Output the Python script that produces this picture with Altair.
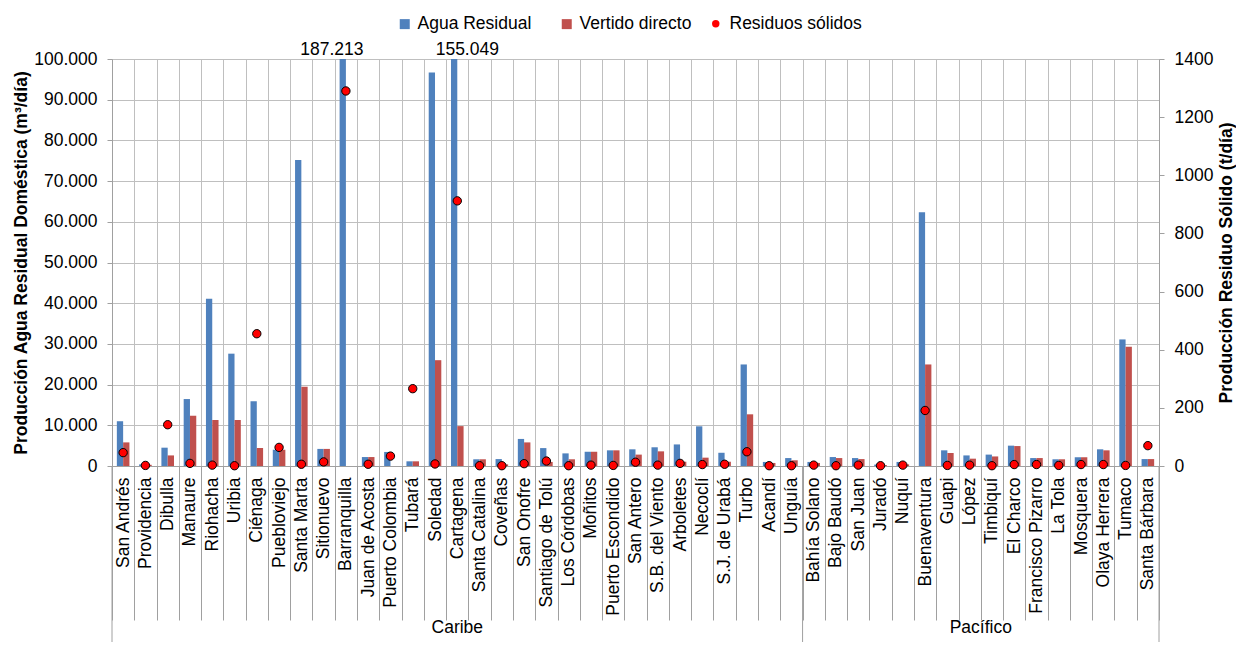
import altair as alt
import pandas as pd

cats = ["San Andrés", "Providencia", "Dibulla", "Manaure", "Riohacha", "Uribia", "Ciénaga",
        "Puebloviejo", "Santa Marta", "Sitionuevo", "Barranquilla", "Juan de Acosta",
        "Puerto Colombia", "Tubará", "Soledad", "Cartagena", "Santa Catalina", "Coveñas",
        "San Onofre", "Santiago de Tolú", "Los Córdobas", "Moñitos", "Puerto Escondido",
        "San Antero", "S.B. del Viento", "Arboletes", "Necoclí", "S.J. de Urabá", "Turbo",
        "Acandí", "Unguía",
        "Bahía Solano", "Bajo Baudó", "San Juan", "Juradó", "Nuquí", "Buenaventura", "Guapi",
        "López", "Timbiquí", "El Charco", "Francisco Pizarro", "La Tola", "Mosquera",
        "Olaya Herrera", "Tumaco", "Santa Bárbara"]

agua_residual = [11000, 400, 4500, 16450, 41100, 27600, 15900, 4000, 75200, 4200,
                 187213, 2200, 3450, 1150, 96700, 155049, 1650, 1700, 6650, 4400,
                 3100, 3500, 3850, 4100, 4600, 5300, 9750, 3250, 24950, 1000, 1950,
                 1000, 2200, 1950, 350, 1000, 62350, 3850, 2600, 2800, 5000, 1950,
                 1650, 2150, 4100, 31100, 1700]

vertido_directo = [5800, 300, 2600, 12350, 11300, 11300, 4400, 4000, 19500, 4200,
                   0, 2200, 0, 1150, 26000, 9800, 1650, 400, 5800, 1000,
                   1650, 3500, 3850, 2800, 3600, 1050, 2050, 1050, 12700, 750, 1400,
                   750, 1950, 1700, 250, 400, 24950, 3200, 1800, 2350, 4900, 1950,
                   1650, 2150, 3850, 29300, 1700]

residuos_solidos = [46, 2, 142, 9, 3, 1, 455, 64, 6, 14,
                    1290, 6, 34, 266, 7, 912, 1, 1, 8, 17,
                    1, 3, 2, 13, 3, 9, 5, 6, 49, 1, 1,
                    3, 1, 3, 1, 3, 191, 2, 3, 1, 5, 5, 2, 5, 5, 2, 70]

series = ["Agua Residual", "Vertido directo", "Residuos sólidos"]
colors = ["#4F81BD", "#C0504D", "#FF0000"]

overflow_cats = ["Barranquilla", "Cartagena"]
overflow_labels = ["187.213", "155.049"]

groups = ["Caribe", "Pacífico"]
group_centers = ["Cartagena", "Timbiquí"]
group_starts = ["San Andrés", "Bahía Solano"]
group_end = ["Santa Bárbara"]

FONT = "Liberation Sans"
FS = 17.5
W, H = 1047, 407
GRID = "#BFBFBF"
AXC = "#A0A0A0"

bars_df = pd.DataFrame({
    "cat": cats * 2,
    "series": [series[0]] * len(cats) + [series[1]] * len(cats),
    "value": agua_residual + vertido_directo,
})
pts_df = pd.DataFrame({"cat": cats, "series": series[2], "value": residuos_solidos})

x_scale = alt.Scale(domain=cats, paddingInner=0, paddingOuter=0)

bar_legend = alt.Legend(
    title=None, orient="none", legendX=284, legendY=-44, direction="horizontal",
    labelFontSize=FS, labelFont=FONT, labelColor="black", symbolSize=100,
    symbolType="square", symbolStrokeWidth=0,
    columnPadding=26, labelOffset=4,
)
pt_legend = alt.Legend(
    title=None, orient="none", legendX=595, legendY=-44, direction="horizontal",
    labelFontSize=FS, labelFont=FONT, labelColor="black", symbolSize=55,
    symbolType="circle", symbolFillColor="#FF0000", symbolStrokeColor="black",
    symbolStrokeWidth=1, labelOffset=5,
)

x_axis = alt.Axis(
    title=None, labelAngle=270, tickBand="extent", tickSize=154, labelPadding=-143,
    labelFontSize=FS, labelFont=FONT, labelColor="black", labelOverlap=False,
    labelLimit=300, grid=True, gridColor=GRID, gridWidth=1,
    domainColor=AXC, tickColor=AXC,
)

bars = alt.Chart(bars_df).mark_bar(opacity=1).encode(
    x=alt.X("cat:N", scale=x_scale, axis=x_axis, sort=cats),
    xOffset=alt.XOffset("series:N", scale=alt.Scale(domain=series[:2], paddingOuter=0.77, paddingInner=0)),
    y=alt.Y("value:Q", scale=alt.Scale(domain=[0, 100000], clamp=True, nice=False),
            axis=alt.Axis(orient="left", title="Producción Agua Residual Doméstica (m³/día)",
                          values=list(range(0, 100001, 10000)),
                          labelExpr="datum.value == 0 ? '0' : format(datum.value / 1000, 'd') + '.000'",
                          labelFontSize=FS, labelFont=FONT, labelColor="black", labelPadding=10,
                          tickSize=5, tickColor=AXC, domainColor=AXC,
                          grid=True, gridColor=GRID, gridWidth=1,
                          titleFontSize=FS, titleFont=FONT, titleFontWeight="bold",
                          titleColor="black", titlePadding=3)),
    color=alt.Color("series:N", scale=alt.Scale(domain=series[:2], range=colors[:2]), legend=bar_legend),
)

points = alt.Chart(pts_df).mark_point(
    filled=True, size=70, fill="#FF0000", stroke="black", strokeWidth=1, opacity=1
).encode(
    x=alt.X("cat:N", scale=x_scale, axis=x_axis, sort=cats),
    y=alt.Y("value:Q", scale=alt.Scale(domain=[0, 1400], nice=False),
            axis=alt.Axis(orient="right", title="Producción Residuo Sólido (t/día)",
                          values=list(range(0, 1401, 200)), format="d",
                          labelFontSize=FS, labelFont=FONT, labelColor="black", labelPadding=10,
                          tickSize=5, tickColor=AXC, domainColor=AXC, grid=False,
                          titleFontSize=FS, titleFont=FONT, titleFontWeight="bold",
                          titleColor="black", titlePadding=5, titleAngle=270,
                          titleBaseline="top")),
    shape=alt.Shape("series:N", scale=alt.Scale(domain=[series[2]], range=["circle"]), legend=pt_legend),
)

ann_df = pd.DataFrame({"cat": overflow_cats, "label": overflow_labels})
ann1 = alt.Chart(ann_df.iloc[[0]]).mark_text(
    font=FONT, fontSize=FS, color="black", baseline="alphabetic", dx=-14
).encode(x=alt.X("cat:N", scale=x_scale, sort=cats), y=alt.value(-4), text="label:N")
ann2 = alt.Chart(ann_df.iloc[[1]]).mark_text(
    font=FONT, fontSize=FS, color="black", baseline="alphabetic", dx=10
).encode(x=alt.X("cat:N", scale=x_scale, sort=cats), y=alt.value(-4), text="label:N")

rules_start = alt.Chart(pd.DataFrame({"cat": group_starts})).mark_rule(
    color=AXC, strokeWidth=1
).encode(x=alt.X("cat:N", scale=x_scale, sort=cats, bandPosition=0),
         y=alt.value(H), y2=alt.value(H + 176))
rules_end = alt.Chart(pd.DataFrame({"cat": group_end})).mark_rule(
    color=AXC, strokeWidth=1
).encode(x=alt.X("cat:N", scale=x_scale, sort=cats, bandPosition=1),
         y=alt.value(H), y2=alt.value(H + 176))

g1 = alt.Chart(pd.DataFrame({"cat": [group_centers[0]], "g": [groups[0]]})).mark_text(
    font=FONT, fontSize=FS, color="black", baseline="alphabetic"
).encode(x=alt.X("cat:N", scale=x_scale, sort=cats, bandPosition=0.5), y=alt.value(H + 167), text="g:N")
g2 = alt.Chart(pd.DataFrame({"cat": [group_centers[1]], "g": [groups[1]]})).mark_text(
    font=FONT, fontSize=FS, color="black", baseline="alphabetic"
).encode(x=alt.X("cat:N", scale=x_scale, sort=cats, bandPosition=0), y=alt.value(H + 167), text="g:N")

chart = alt.layer(bars, points, ann1, ann2, rules_start, rules_end, g1, g2).resolve_scale(
    y="independent"
).properties(
    width=W, height=H,
    autosize=alt.AutoSizeParams(type="none"),
    padding={"left": 104, "top": 51, "right": 77, "bottom": 176},
).configure_view(strokeWidth=0).configure(font=FONT)

chart.save("out.html", embed_options={"renderer": "svg", "actions": False})
